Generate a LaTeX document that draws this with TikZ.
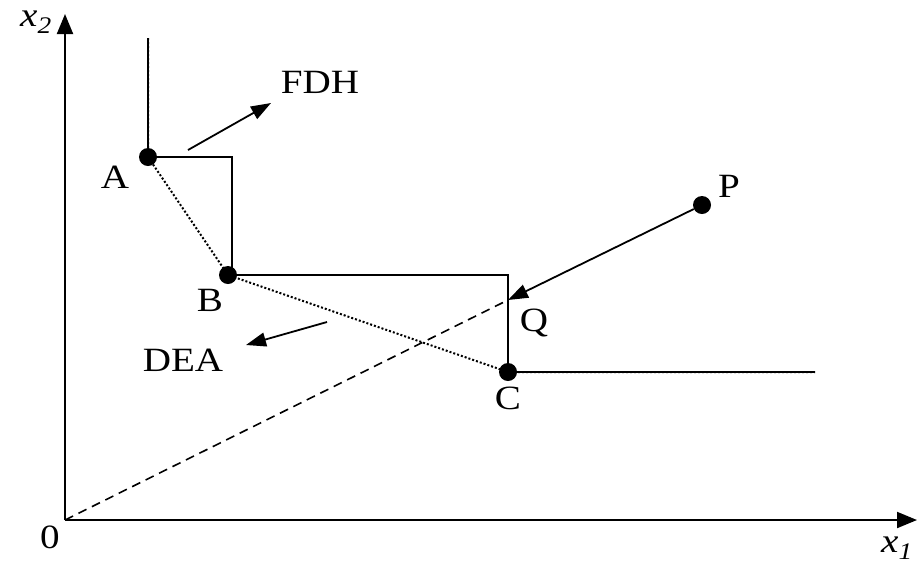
\documentclass[tikz,border=0pt]{standalone}
\usepackage{fontspec}
\usepackage{graphicx}
\setmainfont{Liberation Serif}
\usetikzlibrary{arrows.meta}
\newcommand\wide[1]{\scalebox{1.15}[1]{#1}}
\begin{document}
\begin{tikzpicture}[x=1pt,y=-1pt,
  lab/.style={font=\fontsize{34}{40}\selectfont, inner sep=0pt},
  axis/.style={line width=2pt, -{Triangle[length=20pt,width=16pt]}},
  fdh/.style={line width=1.8pt},
  dea/.style={line width=2pt, dash pattern=on 2pt off 2pt},
  ray/.style={line width=1.6pt, dash pattern=on 9pt off 6pt},
  pointer/.style={line width=1.8pt, -{Triangle[length=20pt,width=14pt]}},
  dot/.style={circle, fill=black, minimum size=18pt, inner sep=0pt}]
\useasboundingbox (0,0) rectangle (917,566);
% axes
\coordinate (O) at (65,520);
\coordinate (Y) at (65,14);
\coordinate (X) at (917,520);
\draw[axis] (O) -- (Y);
\draw[axis] (O) -- (X);
\node[lab] (x2) at (36,22) {\wide{\textit{x}\textsubscript{\textit{2}}}};
\node[lab] (x1) at (897,548) {\wide{\textit{x}\textsubscript{\textit{1}}}};
\node[lab] (zero) at (50,537) {\wide{0}};
% points
\node[dot] (A) at (148,157) {};
\node[dot] (B) at (228,275) {};
\node[dot] (C) at (508,372) {};
\node[dot] (P) at (702,205) {};
\coordinate (Atop) at (148,38);
\coordinate (Cend) at (815,372);
\coordinate (A1) at (232,157);
\coordinate (B0) at (232,275);
\coordinate (B1) at (508,275);
\coordinate (Q) at (508,300);
% FDH staircase
\draw[fdh] (Atop) -- (A.center) -- (A1) -- (B0) -- (B1) -- (C.center) -- (Cend);
% DEA frontier
\draw[dea] (Atop) -- (A.center) -- (B.center) -- (C.center) -- (Cend);
% ray
\draw[ray] (O) -- (Q);
\draw[pointer] (P) -- (Q);
% labels
\node[lab] (lA) at (115,177) {\wide{A}};
\node[lab] (lB) at (210,300) {\wide{B}};
\node[lab] (lC) at (508,398) {\wide{C}};
\node[lab] (lP) at (729,186) {\wide{P}};
\node[lab] (lQ) at (534,323) {\wide{Q}};
\node[lab] (FDH) at (320,82) {\wide{FDH}};
\node[lab] (DEA) at (183,360) {\wide{DEA}};
\coordinate (f0) at (188,150);
\coordinate (f1) at (271,103);
\coordinate (d0) at (327,322);
\coordinate (d1) at (246,345);
\draw[pointer] (f0) -- (f1);
\draw[pointer] (d0) -- (d1);
\end{tikzpicture}
\end{document}
